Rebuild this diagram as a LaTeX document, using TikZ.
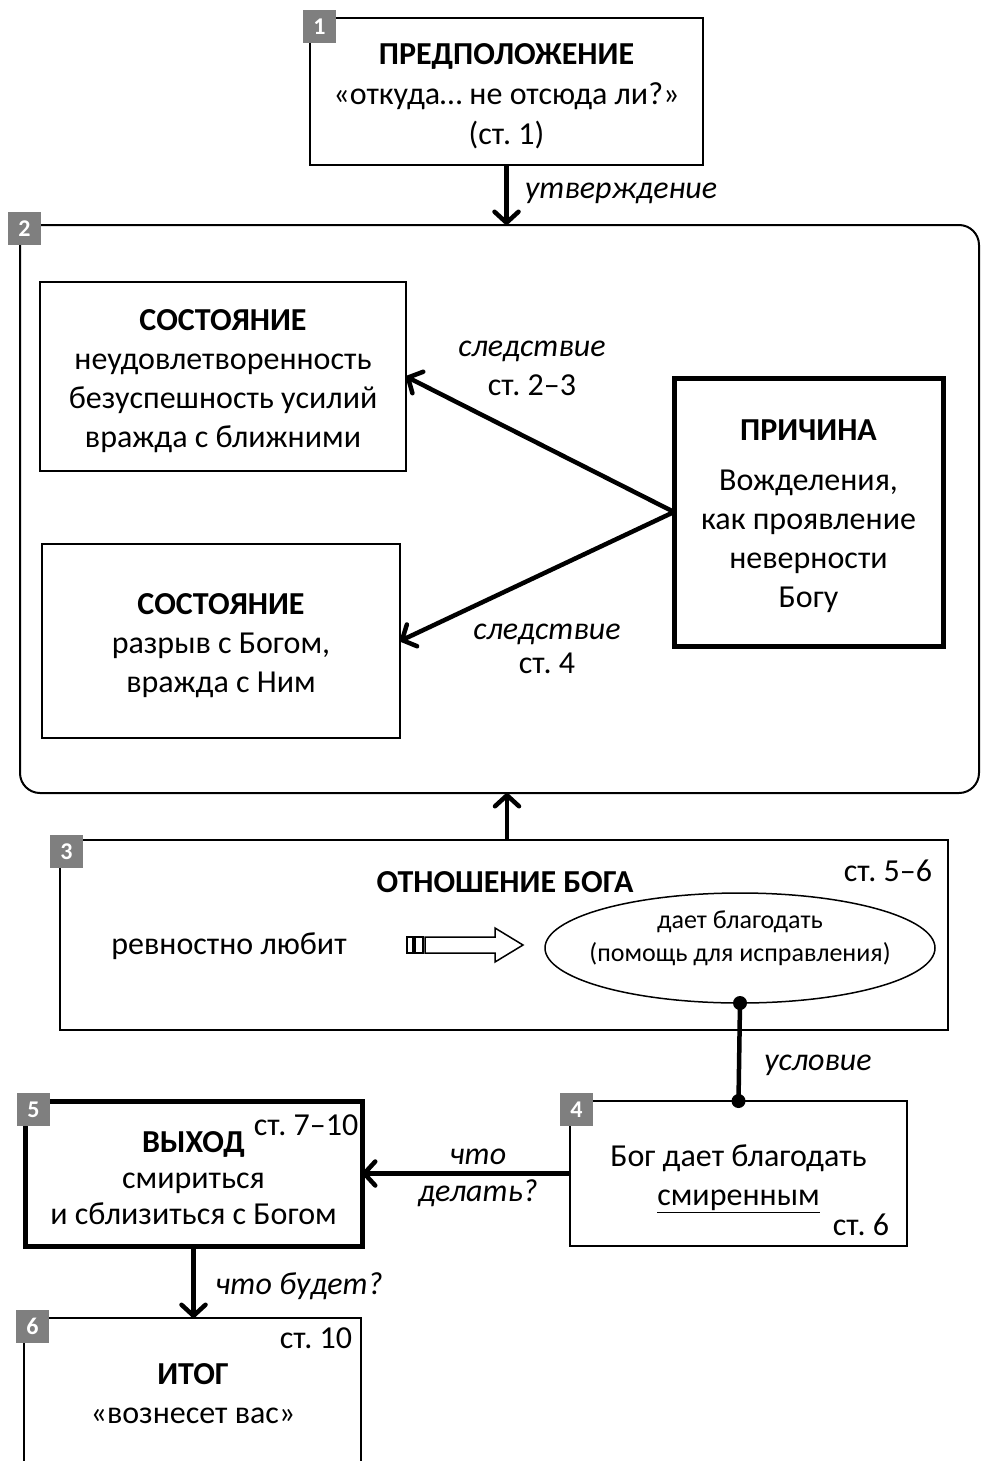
\documentclass[tikz,border=0pt]{standalone}
\usepackage{fontspec}
\setmainfont{Carlito}
\usetikzlibrary{arrows.meta,shapes.geometric,calc}
\definecolor{badgegray}{HTML}{7F7F7F}
\newcommand\mfont{\fontsize{32}{39}\selectfont}
\newcommand\efont{\fontsize{26}{33}\selectfont}
\newcommand\bdgfont{\fontsize{24}{24}\selectfont\bfseries}
\frenchspacing
\begin{document}
\begin{tikzpicture}[x=1pt,y=-1pt,
  box/.style={draw, line width=2pt, inner sep=0pt, outer sep=0pt},
  boldbox/.style={box, line width=5pt},
  txt/.style={inner sep=0pt, outer sep=0pt, align=center, font=\mfont},
  lbl/.style={txt, font=\mfont\itshape},
  badge/.style={fill=badgegray, text=white, font=\bdgfont, minimum size=33pt, inner sep=0pt, outer sep=0pt, anchor=north west},
  conn/.style={line width=4.5pt, -{Straight Barb[length=11pt,width=24pt,round]}},
  dotconn/.style={line width=4.5pt},
  hollow/.style={draw, line width=1.5pt, fill=white}
]
\useasboundingbox (0,0) rectangle (980,1461);
\fill[white] (0,0) rectangle (980,1461);
\clip (0,0) rectangle (980,1461);

% big container
\node[draw, line width=2pt, rounded corners=20pt, minimum width=959pt, minimum height=568pt, inner sep=0pt, outer sep=0pt] (b2) at (499.5,509) {};

% box 1
\node[box, minimum width=393pt, minimum height=147pt] (b1) at (506.5,91.5) {};
\node[txt] (t1) at (506.5,96.5)
  {\textbf{ПРЕДПОЛОЖЕНИЕ}\\[1pt]«откуда… не отсюда ли?»\\[1pt](ст. 1)};

% states
\node[box, minimum width=366pt, minimum height=189pt] (s1) at (223,376.5) {};
\node[txt] (ts1) at (223,381.5)
  {\textbf{СОСТОЯНИЕ}\\неудовлетворенность\\безуспешность усилий\\вражда с ближними};
\node[box, minimum width=358pt, minimum height=194pt] (s2) at (221,641) {};
\node[txt] (ts2) at (221,646)
  {\textbf{СОСТОЯНИЕ}\\разрыв с Богом,\\вражда с Ним};

% cause
\node[boldbox, minimum width=269pt, minimum height=268pt] (pr) at (808.5,512) {};
\node[txt] (tpr) at (808.5,516)
  {\textbf{ПРИЧИНА}\\[11pt]Вожделения,\\как проявление\\неверности\\Богу};

% box 3
\node[box, minimum width=888pt, minimum height=190pt] (b3) at (504,935) {};
\node[txt, font=\mfont\bfseries] (t3) at (505,882) {ОТНОШЕНИЕ БОГА};
\node[txt] (v3) at (888,871) {ст. 5–6};
\node[txt] (love) at (229,946) {ревностно любит};
\node[draw, line width=1.5pt, ellipse, minimum width=390pt, minimum height=110pt, inner sep=0pt, outer sep=0pt] (ell) at (740,948) {};
\node[txt, font=\efont] (et) at (740,938) {дает благодать\\(помощь для исправления)};

% hollow arrow
\draw[hollow] (407,937) rectangle (413,953);
\draw[hollow] (415,937) rectangle (423,953);
\draw[hollow] (425,937) -- (495,937) -- (495,928) -- (523,945) -- (495,962) -- (495,953) -- (425,953) -- cycle;

% box 4
\node[box, minimum width=337pt, minimum height=145pt] (b4) at (738.5,1173.5) {};
\node[txt] (t4) at (738.5,1179) {Бог дает благодать\\\underline{смиренным}};
\node[txt] (v4) at (861,1225) {ст. 6};

% box 5
\node[boldbox, minimum width=337pt, minimum height=145pt] (b5) at (193.5,1173.5) {};
\node[txt] (t5) at (193.5,1178)
  {\textbf{ВЫХОД}\\[-3pt]смириться\\[-3pt]и сблизиться с Богом};
\node[txt] (v5) at (306,1125) {ст. 7–10};

% box 6
\node[box, minimum width=337pt, minimum height=162pt] (b6) at (192.5,1399) {};
\node[txt] (v6) at (316,1338) {ст. 10};
\node[txt] (t6) at (193,1394) {\textbf{ИТОГ}\\«вознесет вас»};

% badges
\node[badge] (n1) at (303,10) {1};
\node[badge] (n2) at (8,212) {2};
\node[badge] (n3) at (50,835) {3};
\node[badge] (n4) at (560,1093) {4};
\node[badge] (n5) at (17,1093) {5};
\node[badge] (n6) at (16,1310) {6};

% connectors
\draw[conn] (b1.south) -- (b1.south |- b2.north);
\node[lbl, anchor=west] (l1) at (525,193) {утверждение};
\draw[conn] (pr.west) -- (s1.east);
\draw[conn] (pr.west) -- (s2.east);
\node[txt] (l2) at (532,368) {\textit{следствие}\\ст. 2–3};
\node[txt] (l3) at (547,649) {\textit{следствие}\\[-5pt]ст. 4};
\draw[conn] ($(b3.north)+(3,0)$) -- ($(b3.north |- b2.south)+(3,0)$);
\draw[dotconn] (ell.south) -- (b4.north);
\fill (ell.south) circle (7pt);
\fill (b4.north) circle (7pt);
\node[lbl] (l4) at (818,1065) {условие};
\draw[conn] (b4.west) -- (b5.east);
\node[txt, font=\mfont\itshape] (l5) at (478,1178) {что\\[-2pt]делать?};
\draw[conn] (b5.south) -- (b5.south |- b6.north);
\node[lbl] (l6) at (299,1286) {что будет?};
\end{tikzpicture}
\end{document}
